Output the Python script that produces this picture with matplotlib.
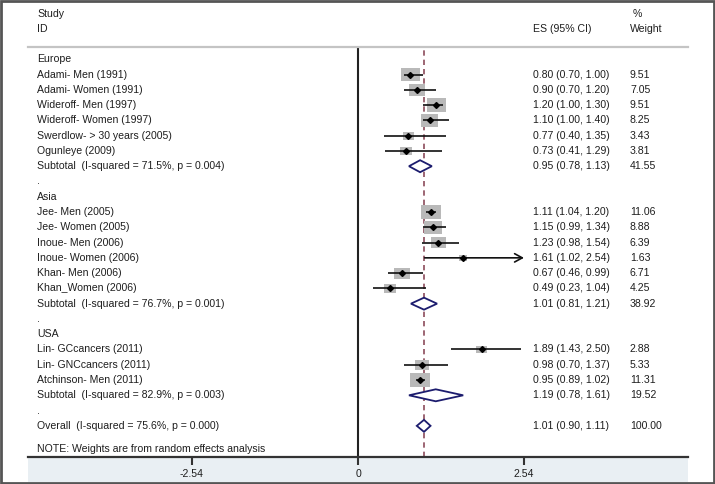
import matplotlib
matplotlib.use("Agg")
import matplotlib.pyplot as plt
from matplotlib.patches import Rectangle, Polygon
import numpy as np

plt.rcParams['font.family'] = ['Liberation Sans', 'DejaVu Sans']

# ---------------- data ----------------
groups = ["Europe", "Asia", "USA"]

europe_labels = ["Adami- Men (1991)", "Adami- Women (1991)", "Wideroff- Men (1997)",
                 "Wideroff- Women (1997)", "Swerdlow- > 30 years (2005)", "Ogunleye (2009)"]
europe_es = [0.80, 0.90, 1.20, 1.10, 0.77, 0.73]
europe_lo = [0.70, 0.70, 1.00, 1.00, 0.40, 0.41]
europe_hi = [1.00, 1.20, 1.30, 1.40, 1.35, 1.29]
europe_w = [9.51, 7.05, 9.51, 8.25, 3.43, 3.81]

asia_labels = ["Jee- Men (2005)", "Jee- Women (2005)", "Inoue- Men (2006)",
               "Inoue- Women (2006)", "Khan- Men (2006)", "Khan_Women (2006)"]
asia_es = [1.11, 1.15, 1.23, 1.61, 0.67, 0.49]
asia_lo = [1.04, 0.99, 0.98, 1.02, 0.46, 0.23]
asia_hi = [1.20, 1.34, 1.54, 2.54, 0.99, 1.04]
asia_w = [11.06, 8.88, 6.39, 1.63, 6.71, 4.25]

usa_labels = ["Lin- GCcancers (2011)", "Lin- GNCcancers (2011)", "Atchinson- Men (2011)"]
usa_es = [1.89, 0.98, 0.95]
usa_lo = [1.43, 0.70, 0.89]
usa_hi = [2.50, 1.37, 1.02]
usa_w = [2.88, 5.33, 11.31]

subtotal_labels = ["Subtotal  (I-squared = 71.5%, p = 0.004)",
                   "Subtotal  (I-squared = 76.7%, p = 0.001)",
                   "Subtotal  (I-squared = 82.9%, p = 0.003)"]
subtotal_es = [0.95, 1.01, 1.19]
subtotal_lo = [0.78, 0.81, 0.78]
subtotal_hi = [1.13, 1.21, 1.61]
subtotal_w = [41.55, 38.92, 19.52]

overall_label = "Overall  (I-squared = 75.6%, p = 0.000)"
overall_es = 1.01
overall_lo = 0.90
overall_hi = 1.11
overall_w = 100.00

note_text = "NOTE: Weights are from random effects analysis"
xticks = [-2.54, 0, 2.54]
xtick_labels = ["-2.54", "0", "2.54"]
x_max_plot = 2.54

# ---------------- figure ----------------
W, H = 715, 484
fig = plt.figure(figsize=(W / 100, H / 100), dpi=100)
fig.patch.set_facecolor("white")

ax_left, ax_right, ax_top, ax_bot = 28, 688, 47, 457
ax = fig.add_axes([ax_left / W, (H - ax_bot) / H, (ax_right - ax_left) / W, (ax_bot - ax_top) / H])
ax.set_facecolor("white")
ax.set_zorder(2)

# bottom band
fig.patches.append(Rectangle((ax_left / W, 2 / H), (ax_right - ax_left) / W, (H - ax_bot - 2) / H,
                             transform=fig.transFigure, facecolor="#e9eff3", edgecolor="none", zorder=-1))
# outer frame
fig.patches.append(Rectangle((0.001, 0.0015), 0.998, 0.997, transform=fig.transFigure,
                             fill=False, edgecolor="#555555", lw=2, zorder=10))

px_per_unit = 65.35
px_per_row = 15.27
ax.set_xlim(-5.05, 5.05)
ax.set_ylim(26.04, -0.805)

txt_col = "#1e1e1e"
fs = 7.6
x_lab = (37 - 358) / px_per_unit
x_es = (533 - 358) / px_per_unit
x_wt = (630 - 358) / px_per_unit
x_pct = (633 - 358) / px_per_unit

def put(x, y, s, **kw):
    ax.text(x, y, s, fontsize=fs, color=txt_col, va="center", ha="left", clip_on=False, **kw)

# headers
put(x_lab, -2.97, "Study")
put(x_lab, -1.98, "ID")
put(x_es, -1.98, "ES (95% CI)")
put(x_pct, -2.97, "%")
put(x_wt, -1.98, "Weight")

# reference lines
ax.axvline(0, color="#222222", lw=1.5, zorder=2)
ax.axvline(overall_es, color="#8c4b5b", lw=1.2, ls=(0, (3.2, 2.4)), zorder=2)

diamond_color = "#1c1c6e"

def study_row(y, lab, es, lo, hi, w):
    put(x_lab, y, lab)
    put(x_es, y, f"{es:.2f} ({lo:.2f}, {hi:.2f})")
    put(x_wt, y, f"{w:.2f}")
    bw = 6.0 * np.sqrt(w) / px_per_unit
    bh = 4.3 * np.sqrt(w) / px_per_row
    ax.add_patch(Rectangle((es - bw / 2, y - bh / 2), bw, bh, facecolor="#b9b9b9",
                           edgecolor="none", zorder=3))
    if hi >= x_max_plot:
        ax.annotate("", xy=(x_max_plot, y), xytext=(lo, y),
                    arrowprops=dict(arrowstyle="->,head_length=0.55,head_width=0.3",
                                    color="#111111", lw=1.2, shrinkA=0, shrinkB=0), zorder=4)
    else:
        ax.plot([lo, hi], [y, y], color="#111111", lw=1.2, zorder=4, solid_capstyle="butt")
    ax.plot([es], [y], marker="D", ms=3, color="#000000", zorder=5)

def diamond_row(y, lab, es, lo, hi, w):
    put(x_lab, y, lab)
    put(x_es, y, f"{es:.2f} ({lo:.2f}, {hi:.2f})")
    put(x_wt, y, f"{w:.2f}")
    h = 6.0 / px_per_row
    ax.add_patch(Polygon([(lo, y), (es, y - h), (hi, y), (es, y + h)], closed=True,
                         facecolor="white", edgecolor=diamond_color, lw=1.3, zorder=4))

group_data = [
    (europe_labels, europe_es, europe_lo, europe_hi, europe_w),
    (asia_labels, asia_es, asia_lo, asia_hi, asia_w),
    (usa_labels, usa_es, usa_lo, usa_hi, usa_w),
]

row = 0
for gi, (labs, es, lo, hi, w) in enumerate(group_data):
    put(x_lab, row, groups[gi])
    row += 1
    for i in range(len(labs)):
        study_row(row, labs[i], es[i], lo[i], hi[i], w[i])
        row += 1
    diamond_row(row, subtotal_labels[gi], subtotal_es[gi], subtotal_lo[gi], subtotal_hi[gi], subtotal_w[gi])
    row += 1
    put(x_lab, row, ".")
    row += 1

diamond_row(row, overall_label, overall_es, overall_lo, overall_hi, overall_w)
put(x_lab, row + 1.5, note_text)

# axes styling
for s in ["left", "right"]:
    ax.spines[s].set_visible(False)
ax.spines["top"].set_color("#c4c4c4")
ax.spines["top"].set_linewidth(1.6)
ax.spines["bottom"].set_color("#333333")
ax.spines["bottom"].set_linewidth(1.6)
ax.set_yticks([])
ax.set_xticks(xticks)
ax.set_xticklabels(xtick_labels)
ax.tick_params(axis="x", direction="out", length=5.5, width=1.5, color="#333333",
               labelsize=fs, labelcolor=txt_col, pad=3)

fig.savefig("out.png", dpi=100)
